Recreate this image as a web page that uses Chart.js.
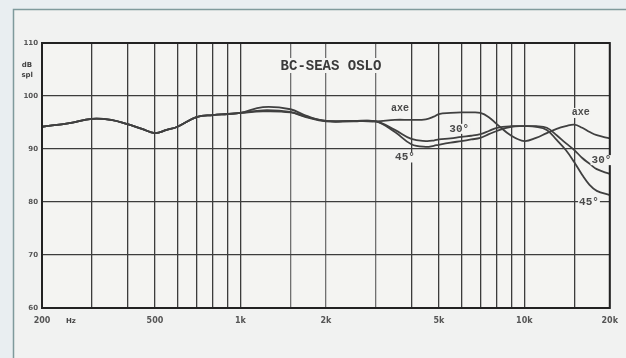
<!DOCTYPE html>
<html lang="en">
<head>
    <meta charset="UTF-8">
    <title>BC-SEAS OSLO</title>
    <script src="https://cdn.jsdelivr.net/npm/chart.js@4.4.0/dist/chart.umd.min.js"></script>
    <style>
        html, body { margin: 0; padding: 0; background: #e9eef1; }
        canvas { display: block; }
    </style>
</head>
<body>
    <canvas id="freqChart" width="626" height="358"></canvas>

    <script>
        // frequencies (Hz) and level (dB spl)
        const freqs = [200, 250, 300, 350, 400, 450, 500, 550, 600, 700, 800, 900, 1000, 1200, 1500, 1700, 2000, 2500, 3000,
                       3500, 4000, 4500, 4800, 5000, 5500, 6000, 6500, 7000, 7500, 8000, 9000, 10000, 11000, 12000, 13000,
                       14000, 15000, 16000, 17000, 18000, 20000];
        const axe = [94.2, 94.9, 95.7, 95.5, 94.7, 93.8, 93.0, 93.6, 94.2, 96.0, 96.4, 96.6, 96.8, 97.9, 97.5, 96.3, 95.3, 95.3, 95.2,
                     95.5, 95.5, 95.6, 96.1, 96.6, 96.8, 96.9, 96.9, 96.8, 96.0, 94.7, 92.5, 91.5, 92.1, 93.0, 93.8,
                     94.3, 94.6, 94.0, 93.2, 92.6, 92.0];
        const deg30 = [94.2, 94.9, 95.7, 95.5, 94.7, 93.8, 93.0, 93.6, 94.2, 96.0, 96.4, 96.6, 96.8, 97.3, 97.0, 96.1, 95.3, 95.3, 95.2,
                       93.6, 91.9, 91.5, 91.6, 91.8, 92.0, 92.3, 92.5, 92.8, 93.4, 94.0, 94.3, 94.3, 94.3, 94.0, 92.6,
                       91.1, 89.8, 88.3, 87.2, 86.2, 85.3];
        const deg45 = [94.2, 94.9, 95.7, 95.5, 94.7, 93.8, 93.0, 93.6, 94.2, 96.0, 96.4, 96.6, 96.8, 97.1, 96.9, 96.0, 95.2, 95.2, 95.2,
                       93.2, 90.9, 90.4, 90.6, 90.8, 91.2, 91.5, 91.8, 92.1, 92.8, 93.4, 94.2, 94.3, 94.2, 93.6, 91.7,
                       89.8, 87.5, 85.1, 83.2, 82.1, 81.3];

        const gridFreqs = [200, 300, 400, 500, 600, 700, 800, 900, 1000, 1500, 2000, 3000, 4000, 5000, 6000, 7000, 8000, 9000, 10000, 15000, 20000];
        const lightGrid = [1500, 2000, 3000];
        const xLabels = { 200: '200', 500: '500', 1000: '1k', 2000: '2k', 5000: '5k', 10000: '10k', 20000: '20k' };
        const yTicks = [60, 70, 80, 90, 100, 110];

        // in-plot labels: [text, freq, dB]
        const curveLabels = [
            ['axe', 3650, 97.7], ['30°', 5900, 93.8], ['45°', 3800, 88.4],
            ['axe', 15800, 96.8], ['30°', 18700, 87.9], ['45°', 16900, 80]
        ];

        const toXY = (ys) => freqs.map((f, i) => ({ x: f, y: ys[i] }));

        const backdrop = {
            id: 'backdrop',
            beforeDraw(chart) {
                const ctx = chart.ctx;
                const a = chart.chartArea;
                ctx.save();
                ctx.fillStyle = '#e9eef1';
                ctx.fillRect(0, 0, chart.width, chart.height);
                ctx.fillStyle = '#f1f2f1';
                ctx.fillRect(13, 9, chart.width - 13, chart.height - 9);
                ctx.strokeStyle = '#7f9a9c';
                ctx.lineWidth = 1.5;
                ctx.beginPath();
                ctx.moveTo(13.5, chart.height);
                ctx.lineTo(13.5, 9.5);
                ctx.lineTo(chart.width, 9.5);
                ctx.stroke();
                ctx.fillStyle = '#f4f4f2';
                ctx.fillRect(a.left, a.top, a.right - a.left, a.bottom - a.top);
                ctx.restore();
            },
            afterDatasetsDraw(chart) {
                const ctx = chart.ctx;
                const xs = chart.scales.x, ys = chart.scales.y;
                const a = chart.chartArea;
                ctx.save();
                ctx.strokeStyle = '#222';
                ctx.lineWidth = 2;
                ctx.strokeRect(a.left, a.top, a.right - a.left, a.bottom - a.top);
                // title
                ctx.font = 'bold 14px "Liberation Mono", "DejaVu Sans Mono", monospace';
                ctx.textAlign = 'center';
                ctx.textBaseline = 'middle';
                const tw = ctx.measureText('BC-SEAS OSLO').width;
                ctx.fillStyle = '#f4f4f2';
                ctx.fillRect(331 - tw / 2 - 3, 58, tw + 6, 15);
                ctx.fillStyle = '#3a3a3a';
                ctx.fillText('BC-SEAS OSLO', 331, 66);
                // curve labels
                curveLabels.forEach(([t, f, v]) => {
                    ctx.font = (t === 'axe' ? 'bold 10px ' : 'bold 11px ') + '"Liberation Mono", "DejaVu Sans Mono", monospace';
                    const px = xs.getPixelForValue(f), py = ys.getPixelForValue(v);
                    const w = ctx.measureText(t).width;
                    ctx.fillStyle = '#f4f4f2';
                    ctx.fillRect(px - w / 2 - 1, py - 5, w + 2, 10);
                    ctx.fillStyle = '#4a4a4a';
                    ctx.fillText(t, px, py);
                });
                // y unit
                ctx.font = 'bold 7px "DejaVu Sans", sans-serif';
                ctx.fillStyle = '#444';
                ctx.textAlign = 'right';
                ctx.fillText('dB', 32, 65);
                ctx.fillText('spl', 33, 75);
                ctx.textAlign = 'left';
                ctx.fillText('Hz', 66, 321);
                ctx.restore();
            }
        };

        const lineStyle = (label, data) => ({
            label: label,
            data: toXY(data),
            borderColor: '#404040',
            borderWidth: 1.8,
            pointRadius: 0,
            tension: 0.4,
            fill: false
        });

        new Chart(document.getElementById('freqChart'), {
            type: 'line',
            data: {
                datasets: [lineStyle('axe', axe), lineStyle('30°', deg30), lineStyle('45°', deg45)]
            },
            options: {
                responsive: false,
                animation: false,
                layout: { padding: { left: 0, top: 43, right: 15, bottom: 0 } },
                plugins: { legend: { display: false }, tooltip: { enabled: false } },
                scales: {
                    x: {
                        type: 'logarithmic',
                        min: 200,
                        max: 20000,
                        afterBuildTicks: (axis) => { axis.ticks = gridFreqs.map(v => ({ value: v })); },
                        afterFit: (axis) => { axis.height = 50; },
                        grid: {
                            color: (c) => lightGrid.includes(c.tick && c.tick.value) ? '#707070' : '#3c3c3c',
                            lineWidth: 1.3,
                            drawTicks: false
                        },
                        border: { display: false },
                        ticks: {
                            autoSkip: false,
                            maxRotation: 0,
                            padding: 8,
                            color: '#555',
                            font: { size: 8, family: 'DejaVu Sans', weight: 'bold' },
                            callback: (v) => xLabels[v] || ''
                        }
                    },
                    y: {
                        min: 60,
                        max: 110,
                        afterBuildTicks: (axis) => { axis.ticks = yTicks.map(v => ({ value: v })); },
                        afterFit: (axis) => { axis.width = 42; },
                        grid: { color: '#3c3c3c', lineWidth: 1.3, drawTicks: false },
                        border: { display: false },
                        ticks: {
                            padding: 4,
                            color: '#555',
                            font: { size: 7, family: 'DejaVu Sans', weight: 'bold' }
                        }
                    }
                }
            },
            plugins: [backdrop]
        });
    </script>
</body>
</html>
